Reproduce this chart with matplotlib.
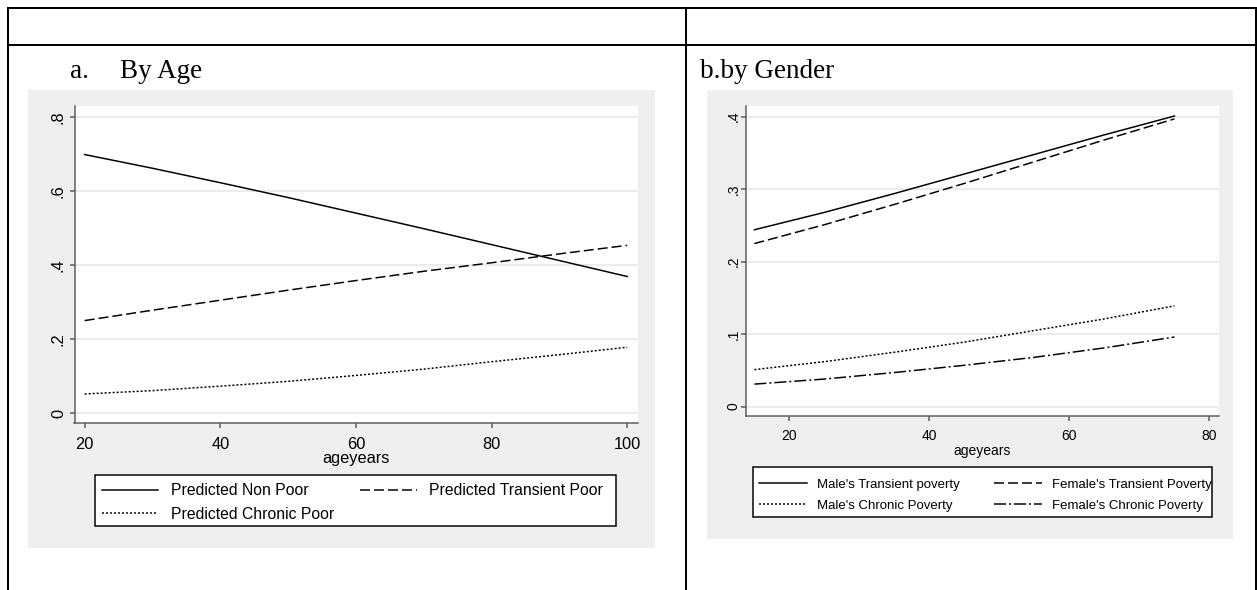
import matplotlib
matplotlib.use("Agg")
import matplotlib.pyplot as plt
from matplotlib.patches import Rectangle
from matplotlib.lines import Line2D

# ---------------- data ----------------
# panel a: predicted probabilities by age
age_a = [20, 30, 40, 50, 60, 70, 80, 90, 100]
non_poor = [0.698, 0.661, 0.622, 0.582, 0.540, 0.498, 0.455, 0.412, 0.369]
transient_poor = [0.250, 0.278, 0.305, 0.332, 0.358, 0.383, 0.406, 0.430, 0.453]
chronic_poor = [0.052, 0.061, 0.073, 0.086, 0.102, 0.119, 0.139, 0.158, 0.178]
xticks_a = [20, 40, 60, 80, 100]
yticks_a = [0, 0.2, 0.4, 0.6, 0.8]
ylabels_a = ["0", ".2", ".4", ".6", ".8"]
legend_a = ["Predicted Non Poor", "Predicted Transient Poor", "Predicted Chronic Poor"]

# panel b: predicted probabilities by age and gender
age_b = [15, 25, 35, 45, 55, 65, 75]
male_transient = [0.244, 0.268, 0.294, 0.321, 0.348, 0.375, 0.401]
female_transient = [0.225, 0.251, 0.279, 0.308, 0.338, 0.368, 0.397]
male_chronic = [0.051, 0.062, 0.075, 0.089, 0.105, 0.121, 0.139]
female_chronic = [0.031, 0.038, 0.047, 0.057, 0.068, 0.081, 0.096]
xticks_b = [20, 40, 60, 80]
yticks_b = [0, 0.1, 0.2, 0.3, 0.4]
ylabels_b = ["0", ".1", ".2", ".3", ".4"]
legend_b = ["Male's Transient poverty", "Female's Transient Poverty",
            "Male's Chronic Poverty", "Female's Chronic Poverty"]

# ---------------- style ----------------
W, H, DPI = 1257, 590, 100
PX = 72.0 / DPI          # one pixel in points
SANS = ["Liberation Sans", "DejaVu Sans"]
SERIF = ["Liberation Serif", "DejaVu Serif"]
plt.rcParams["font.family"] = SANS

BG_GRAPH = "#efefef"
GRID = "#e6e6e6"
AXIS = "#5c5c5c"
LW = 1.5 * PX

SOLID = "-"
DASH = (0, (10 * PX / LW, 4 * PX / LW))
DOT = (0, (2 * PX / LW, 2 * PX / LW))
DASHDOT = (0, (12 * PX / LW, 3 * PX / LW, 2 * PX / LW, 3 * PX / LW))

fig = plt.figure(figsize=(W / DPI, H / DPI), dpi=DPI)
fig.patch.set_facecolor("white")


def fx(x):
    return x / W


def fy(y):
    return 1 - y / H


def box(x0, y0, x1, y1):
    return [fx(x0), fy(y1), (x1 - x0) / W, (y1 - y0) / H]


def add_rect(x0, y0, x1, y1, face, edge="none", lw=0, z=0):
    fig.add_artist(Rectangle((fx(x0), fy(y1)), (x1 - x0) / W, (y1 - y0) / H,
                             transform=fig.transFigure, facecolor=face,
                             edgecolor=edge, linewidth=lw, zorder=z))


def add_line(xs, ys, lw=2 * PX):
    fig.add_artist(Line2D([fx(v) for v in xs], [fy(v) for v in ys],
                          transform=fig.transFigure, color="black",
                          linewidth=lw, solid_capstyle="projecting", zorder=5))


# table frame around the two panels
add_line([7.7, 1256], [7.7, 7.7])
add_line([7.7, 1256], [44.8, 44.8])
add_line([7.7, 7.7], [7.7, 590])
add_line([686.3, 686.3], [7.7, 590])
add_line([1256, 1256], [7.7, 590])

# panel captions
TITLE_FS = 19.5
fig.text(fx(70), fy(78), "a.", family=SERIF, fontsize=TITLE_FS, va="baseline")
fig.text(fx(120), fy(78), "By Age", family=SERIF, fontsize=TITLE_FS, va="baseline")
fig.text(fx(700), fy(78), "b.by Gender", family=SERIF, fontsize=TITLE_FS, va="baseline")

# graph regions
add_rect(28, 90, 655, 548, BG_GRAPH)
add_rect(707, 90, 1233, 539, BG_GRAPH)


def style_axes(ax, xt, yt, ylab, xlim, ylim, fs, ypad, xpad):
    ax.set_facecolor("white")
    for s in ("top", "right"):
        ax.spines[s].set_visible(False)
    for s in ("left", "bottom"):
        ax.spines[s].set_color(AXIS)
        ax.spines[s].set_linewidth(LW)
    ax.set_xlim(*xlim)
    ax.set_ylim(*ylim)
    ax.set_xticks(xt)
    ax.set_yticks(yt, ylab)
    ax.yaxis.grid(True, color=GRID, linewidth=LW)
    ax.set_axisbelow(True)
    ax.tick_params(direction="out", length=5 * PX, width=LW, color=AXIS,
                   labelsize=fs)
    ax.tick_params(axis="x", pad=xpad)
    ax.tick_params(axis="y", pad=ypad)
    for t in ax.get_yticklabels():
        t.set_rotation(90)
        t.set_va("center")
        t.set_ha("right")


# ---------------- panel a ----------------
ax1 = fig.add_axes(box(74.5, 106, 638, 422.5))
l_np, = ax1.plot(age_a, non_poor, color="black", lw=LW, ls=SOLID)
l_tp, = ax1.plot(age_a, transient_poor, color="black", lw=LW, ls=DASH)
l_cp, = ax1.plot(age_a, chronic_poor, color="black", lw=LW, ls=DOT)
style_axes(ax1, xticks_a, yticks_a, ylabels_a, (18.5, 101.6), (-0.025, 0.829),
           11.8, 2.6, 6.9)
ax1.set_xlabel("ageyears", fontsize=11.8, labelpad=-0.6)

add_rect(95.4, 475, 616, 525.7, "white", edge="black", lw=LW, z=3)
leg1 = fig.legend([l_np, l_cp, l_tp], [legend_a[0], legend_a[2], legend_a[1]],
                  ncol=2, loc="upper left", bbox_to_anchor=(fx(101.5), fy(483.3)),
                  frameon=False, borderpad=0, borderaxespad=0,
                  fontsize=11.3, handlelength=57 / 15.7, handletextpad=0.8,
                  columnspacing=1.62, labelspacing=0.54)
leg1.set_zorder(4)

# ---------------- panel b ----------------
ax2 = fig.add_axes(box(746, 106, 1219, 416))
l_mt, = ax2.plot(age_b, male_transient, color="black", lw=LW, ls=SOLID)
l_ft, = ax2.plot(age_b, female_transient, color="black", lw=LW, ls=DASH)
l_mc, = ax2.plot(age_b, male_chronic, color="black", lw=LW, ls=DOT)
l_fc, = ax2.plot(age_b, female_chronic, color="black", lw=LW, ls=DASHDOT)
style_axes(ax2, xticks_b, yticks_b, ylabels_b, (13.8, 81.36), (-0.013, 0.4148),
           10.0, 0.5, 5.5)
ax2.set_xlabel("ageyears", fontsize=10.0, labelpad=1.0)

add_rect(752.6, 467.3, 1212, 517.3, "white", edge="black", lw=LW, z=3)
leg2 = fig.legend([l_mt, l_mc, l_ft, l_fc],
                  [legend_b[0], legend_b[2], legend_b[1], legend_b[3]],
                  ncol=2, loc="upper left", bbox_to_anchor=(fx(758.7), fy(478.5)),
                  frameon=False, borderpad=0, borderaxespad=0,
                  fontsize=9.5, handlelength=48 / 13.2, handletextpad=0.75,
                  columnspacing=2.6, labelspacing=0.67)
leg2.set_zorder(4)

fig.savefig("out.png", dpi=DPI, facecolor="white")
